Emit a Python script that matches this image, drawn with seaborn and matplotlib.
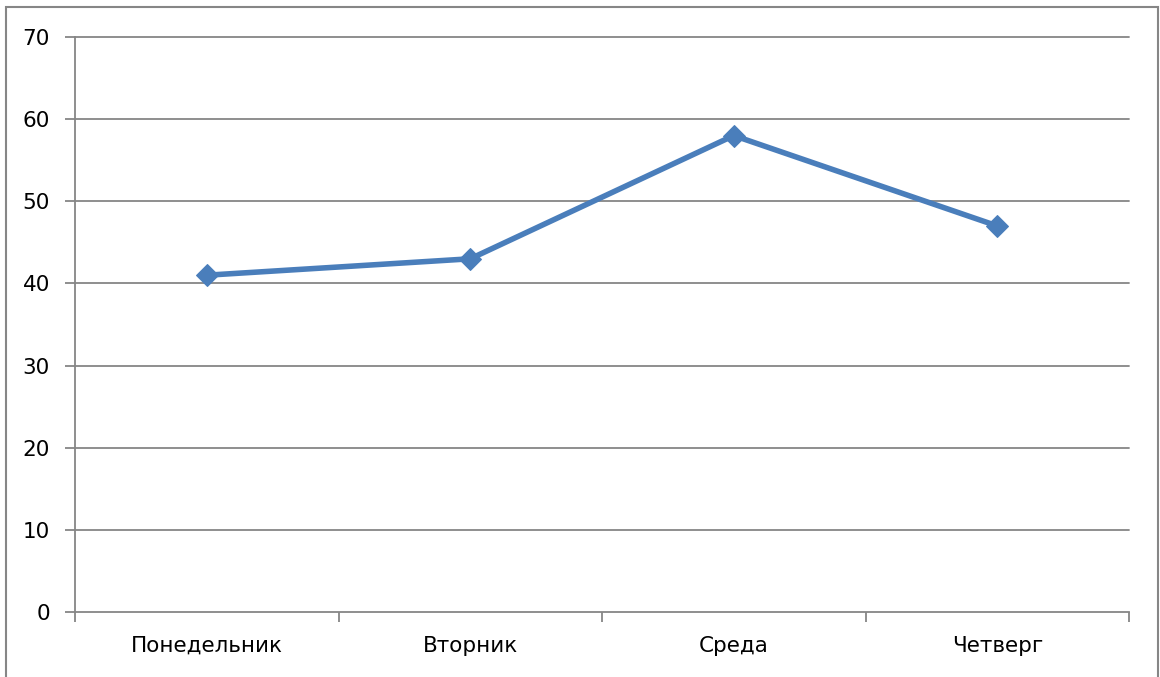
import pandas as pd
import seaborn as sns
import matplotlib.pyplot as plt
from matplotlib.patches import Rectangle

# Chart data
days = ['Понедельник', 'Вторник', 'Среда', 'Четверг']
values = [41, 43, 58, 47]

df = pd.DataFrame({'day': days, 'value': values})

sns.set_style('white')
plt.rcParams['font.family'] = ['DejaVu Sans']

fig = plt.figure(figsize=(11.6, 6.77), dpi=100)
ax = fig.add_axes([75 / 1160, 65 / 677, (1129 - 75) / 1160, (612 - 37) / 677])

grid_color = '#868686'
for y in range(10, 80, 10):
    ax.axhline(y, color=grid_color, lw=1.3, zorder=0, clip_on=False)

sns.lineplot(data=df, x='day', y='value', ax=ax, color='#4a7ebb', lw=4,
             marker='D', markersize=11.5, markeredgecolor='#4a7ebb', sort=False)

ax.set_xlim(-0.5, len(days) - 0.5)
ax.set_ylim(0, 70)
ax.set_yticks(range(0, 80, 10))
ax.set_xticks([i - 0.5 for i in range(len(days) + 1)])
ax.set_xticklabels([])
ax.set_xticks(range(len(days)), minor=True)
ax.set_xticklabels(days, minor=True)
ax.tick_params(axis='x', which='major', direction='out', length=7, width=1.3,
               color=grid_color, bottom=True)
ax.tick_params(axis='x', which='minor', length=0, pad=17, labelsize=15.5,
               labelcolor='black')
ax.tick_params(axis='y', direction='out', length=7, width=1.3, color=grid_color,
               left=True, pad=11, labelsize=15.5, labelcolor='black')
ax.set_xlabel('')
ax.set_ylabel('')

for side in ['top', 'right']:
    ax.spines[side].set_visible(False)
for side in ['left', 'bottom']:
    ax.spines[side].set_color(grid_color)
    ax.spines[side].set_linewidth(1.3)

# Outer chart border
fig.patches.append(Rectangle((6 / 1160, -0.05), 1152 / 1160, 1.05 - 7 / 677,
                             transform=fig.transFigure, fill=False,
                             edgecolor=grid_color, lw=1.5))

plt.savefig('out.png', dpi=100)
